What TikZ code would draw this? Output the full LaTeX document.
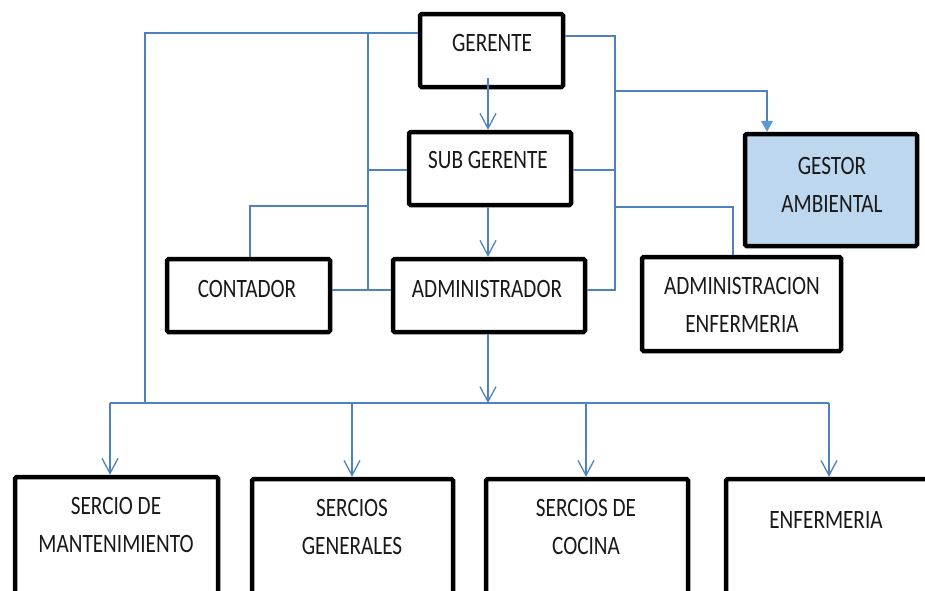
\documentclass[tikz,border=0pt]{standalone}
\usepackage{fontspec}
\setmainfont{Carlito}[FakeStretch=0.8]
\usetikzlibrary{arrows.meta}
\definecolor{wireblue}{HTML}{4F81BD}
\definecolor{tipblue}{HTML}{5B9BD5}
\definecolor{gestfill}{HTML}{BDD7EE}
\begin{document}
\begin{tikzpicture}[x=1pt,y=-1pt,
  box/.style={draw=black,line width=4.5pt,inner sep=0pt,rounded corners=1.5pt},
  lbl/.style={inner sep=0pt,align=center,font=\fontsize{26.5}{38}\selectfont,text=black!90},
  wire/.style={draw=wireblue,line width=1.3pt},
  arr/.style={wire,-{Straight Barb[length=15pt,width=16pt]}},
  farr/.style={wire,-{Triangle[length=11pt,width=12pt,color=tipblue]}}]
\clip (0,0) rectangle (925,590);
\fill[white] (0,0) rectangle (925,590);
% boxes
\node[box,minimum width=143pt,minimum height=73pt] (ger) at (491.5,50.5) {};
\node[box,minimum width=162pt,minimum height=73pt] (sub) at (490,168.5) {};
\node[box,minimum width=192pt,minimum height=73pt] (adm) at (489,295.5) {};
\node[box,minimum width=163pt,minimum height=73pt] (cont) at (248.5,295.5) {};
\node[box,fill=gestfill,minimum width=172pt,minimum height=112pt] (gest) at (831,190) {};
\node[box,minimum width=199pt,minimum height=94pt] (ae) at (741.5,304) {};
\node[box,minimum width=203pt,minimum height=121pt] (b1) at (116.5,537.5) {};
\node[box,minimum width=201pt,minimum height=119pt] (b2) at (352.5,538.5) {};
\node[box,minimum width=202pt,minimum height=119pt] (b3) at (587,538.5) {};
\node[box,minimum width=202pt,minimum height=119pt] (b4) at (827,538.5) {};
% texts
\node[lbl] (tger) at (492,42.5) {GERENTE};
\node[lbl] (tsub) at (488,159.5) {SUB GERENTE};
\node[lbl] (tadm) at (487,288.5) {ADMINISTRADOR};
\node[lbl] (tcont) at (247,288.5) {CONTADOR};
\node[lbl] (tgest) at (832,185) {GESTOR\\AMBIENTAL};
\node[lbl] (tae) at (742,305) {ADMINISTRACION\\ENFERMERIA};
\node[lbl] (tb1) at (116,524.5) {SERCIO DE\\MANTENIMIENTO};
\node[lbl] (tb2) at (352,526.5) {SERCIOS\\GENERALES};
\node[lbl] (tb3) at (586,526.5) {SERCIOS DE\\COCINA};
\node[lbl] (tb4) at (826,520) {ENFERMERIA};
% junction coordinates
\coordinate (tl) at (145,33);
\coordinate (bl) at (145,403);
\coordinate (lv) at (368,33);
\coordinate (lvs) at (368,170);
\coordinate (lvc) at (368,206);
\coordinate (cx) at (250,206);
\coordinate (lvb) at (368,290);
\coordinate (rt) at (615,36);
\coordinate (rg) at (615,91);
\coordinate (gx) at (767,91);
\coordinate (rs) at (615,170);
\coordinate (re) at (615,207);
\coordinate (ex) at (733,207);
\coordinate (rb) at (615,290);
\coordinate (ax) at (488,78);
\coordinate (bus) at (488,403);
\coordinate (busl) at (110,403);
\coordinate (bus2) at (352,403);
\coordinate (bus3) at (586,403);
\coordinate (busr) at (829,403);
% left connectors
\draw[wire] (ger.west |- tl) -- (tl) -- (bl);
\draw[wire] (lv) -- (lvb);
\draw[wire] (sub.west |- lvs) -- (lvs);
\draw[wire] (lvc) -- (cx) -- (cont.north -| cx);
\draw[wire] (cont.east |- lvb) -- (adm.west |- lvb);
% right connectors
\draw[wire] (ger.east |- rt) -- (rt) -- (rb) -- (adm.east |- rb);
\draw[farr] (rg) -- (gx) -- (gest.north -| gx);
\draw[wire] (sub.east |- rs) -- (rs);
\draw[wire] (re) -- (ex) -- (ae.north -| ex);
% vertical chain
\draw[arr] (ax) -- (sub.north -| ax);
\draw[arr] (sub.south -| ax) -- (adm.north -| ax);
\draw[arr] (adm.south -| bus) -- (bus);
% bus
\draw[wire] (busl) -- (busr);
\draw[arr] (busl) -- (b1.north -| busl);
\draw[arr] (bus2) -- (b2.north -| bus2);
\draw[arr] (bus3) -- (b3.north -| bus3);
\draw[arr] (busr) -- (b4.north -| busr);
\end{tikzpicture}
\end{document}
